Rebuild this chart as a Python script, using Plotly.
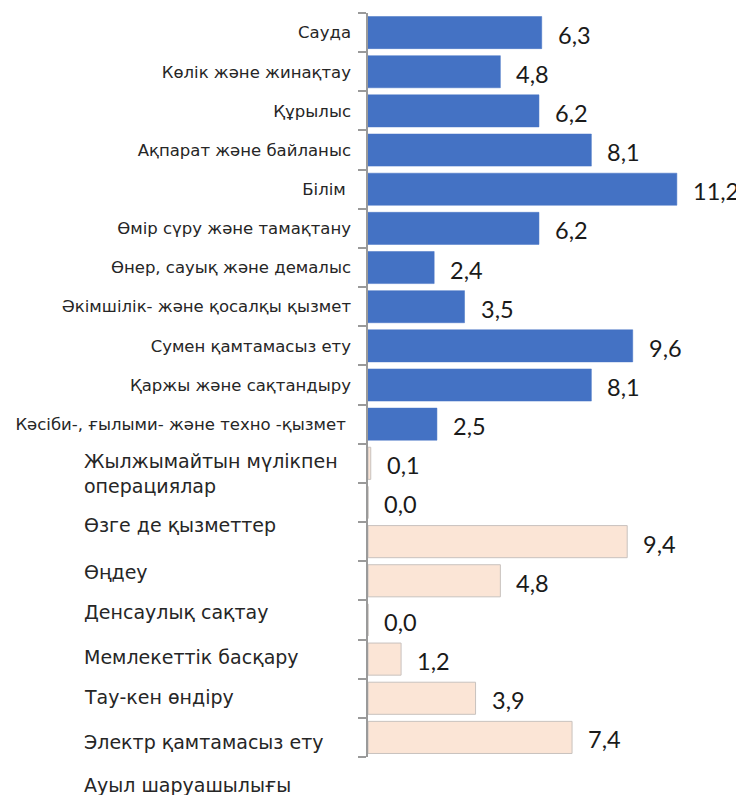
import plotly.graph_objects as go

# ---- data ----
blue_labels = [
    "Сауда",
    "Көлік және жинақтау",
    "Құрылыс",
    "Ақпарат және байланыс",
    "Білім\u00a0",
    "Өмір сүру және тамақтану",
    "Өнер, сауық және демалыс",
    "Әкімшілік- және қосалқы қызмет",
    "Сумен қамтамасыз ету",
    "Қаржы және сақтандыру",
    "Кәсіби-, ғылыми- және техно -қызмет\u00a0",
]
blue_values = [6.3, 4.8, 6.2, 8.1, 11.2, 6.2, 2.4, 3.5, 9.6, 8.1, 2.5]

pink_labels = [
    "Жылжымайтын мүлікпен<br>операциялар",
    "Өзге де қызметтер",
    "Өңдеу",
    "Денсаулық сақтау",
    "Мемлекеттік басқару",
    "Тау-кен өндіру",
    "Электр қамтамасыз ету",
    "Ауыл шаруашылығы",
]
pink_values = [0.1, 0.0, 9.4, 4.8, 0.0, 1.2, 3.9, 7.4]
# vertical placement (in row units) of the detached left-aligned text labels
pink_label_rows = [11.25, 12.57, 13.77, 14.80, 15.95, 16.97, 18.12, 19.21]

# ---- layout constants (page body adds an 8px offset) ----
W, H = 736, 787
ML, MR, MT, MB = 360, 12, 5, 38
plot_w = W - ML - MR
n_rows = len(blue_values) + len(pink_values)
x_max = 13.2

blue_idx = list(range(len(blue_values)))
pink_idx = [len(blue_values) + i for i in range(len(pink_values))]

fig = go.Figure()
fig.add_trace(go.Bar(
    x=blue_values, y=blue_idx, orientation="h",
    marker=dict(color="#4472C4", line=dict(color="#4472C4", width=0.5)),
    width=0.82, yaxis="y", hoverinfo="x",
))
fig.add_trace(go.Bar(
    x=pink_values, y=pink_idx, orientation="h",
    marker=dict(color="#FBE5D6", line=dict(color="#C8C2BE", width=1)),
    width=0.82, yaxis="y2", hoverinfo="x",
))

def fmt(v):
    return f"{v:.1f}".replace(".", ",")

annotations = []
for v, i in zip(blue_values + pink_values, blue_idx + pink_idx):
    annotations.append(dict(
        x=v, y=i, xref="x", yref="y", text=fmt(v), showarrow=False,
        xanchor="left", yanchor="middle", xshift=14, yshift=-2,
        font=dict(family="Lato", size=23.5, color="#1a1a1a"),
    ))

label_x_px = 74
for lab, r in zip(pink_labels, pink_label_rows):
    annotations.append(dict(
        x=(label_x_px - ML) / plot_w, xref="paper",
        y=1 - (r + 0.5) / n_rows, yref="paper",
        text=lab, showarrow=False, xanchor="left", yanchor="middle", align="left",
        font=dict(family="DejaVu Sans", size=19, color="#262626"),
    ))

rng = [n_rows - 0.5, -0.5]
fig.update_layout(
    width=W, height=H,
    margin=dict(l=ML, r=MR, t=MT, b=MB),
    paper_bgcolor="white", plot_bgcolor="white",
    showlegend=False, barmode="overlay",
    xaxis=dict(range=[0, x_max], visible=False, fixedrange=True),
    yaxis=dict(
        range=rng, tickmode="array", tickvals=blue_idx, ticktext=blue_labels,
        ticks="", showgrid=False, zeroline=False, showline=False,
        ticklabelstandoff=16,
        tickfont=dict(family="DejaVu Sans", size=16.5, color="#262626"),
    ),
    yaxis2=dict(
        range=rng, overlaying="y", side="left", anchor="x",
        tickmode="array", tickvals=[i - 0.5 for i in range(n_rows + 1)],
        ticktext=[""] * (n_rows + 1),
        ticks="outside", ticklen=8, tickwidth=1.5, tickcolor="#9a9a9a",
        showline=True, linecolor="#9a9a9a", linewidth=1.5,
        showgrid=False, zeroline=False,
    ),
    annotations=annotations,
)

fig.write_html("out.html")
